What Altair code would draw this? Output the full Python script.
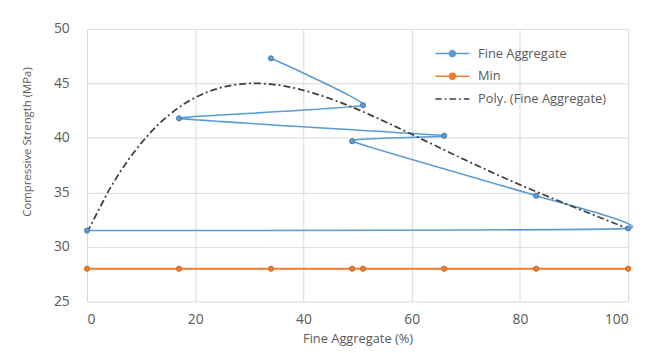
import altair as alt
import pandas as pd

# Fine Aggregate series (in sheet order, line connects points in this order)
fa_x = [34, 51, 17, 66, 49, 83, 100, 0]
fa_y = [47.3, 43.0, 41.8, 40.2, 39.7, 34.7, 31.7, 31.5]

# Min series
min_x = [0, 17, 34, 49, 51, 66, 83, 100]
min_y = [28, 28, 28, 28, 28, 28, 28, 28]

series_names = ["Fine Aggregate", "Min", "Poly. (Fine Aggregate)"]
x_ticks = [0, 20, 40, 60, 80, 100]
y_ticks = [25, 30, 35, 40, 45, 50]

BLUE = "#5B9BD5"
ORANGE = "#ED7D31"
TREND = "#404040"
TEXT = "#595959"
FONT = "Open Sans"

fa = pd.DataFrame({"x": fa_x, "y": fa_y, "idx": list(range(len(fa_x)))})
mn = pd.DataFrame({"x": min_x, "y": min_y})
leg = pd.DataFrame({"series": series_names})

xs = alt.Scale(domain=[0, 100], nice=False, zero=False)
ys = alt.Scale(domain=[25, 50], nice=False, zero=False)

xax = alt.Axis(values=x_ticks, title="Fine Aggregate (%)", grid=True, domain=False,
               ticks=False, labelPadding=11, titlePadding=7, titleFontSize=13)
yax = alt.Axis(values=y_ticks, title="Compressive Strength (MPa)", grid=True, domain=False,
               ticks=False, labelPadding=18, titleX=-55, titleY=114, titleFontSize=11.5)

X = alt.X("x:Q", scale=xs, axis=xax)
Y = alt.Y("y:Q", scale=ys, axis=yax)

fa_line = alt.Chart(fa).mark_line(interpolate="cardinal", tension=0.65, color=BLUE, strokeWidth=1.6).encode(
    x=X, y=Y, order=alt.Order("idx:Q"))
fa_pts = alt.Chart(fa).mark_circle(size=28, color=BLUE, stroke="#41719C", strokeWidth=0.8, opacity=1).encode(
    x="x:Q", y="y:Q")

mn_line = alt.Chart(mn).mark_line(color=ORANGE, strokeWidth=2.2).encode(x="x:Q", y="y:Q")
mn_pts = alt.Chart(mn).mark_circle(size=28, color=ORANGE, stroke="#C55A11", strokeWidth=0.8, opacity=1).encode(
    x="x:Q", y="y:Q")

trend = alt.Chart(fa).transform_regression(
    "x", "y", method="poly", order=4, extent=[0, 100]
).mark_line(color=TREND, strokeDash=[7, 3, 2, 3], strokeWidth=1.8).encode(x="x:Q", y="y:Q")

line_dot = "M-1.15,0L1.15,0M-0.2,0A0.2,0.2,0,1,0,0.2,0A0.2,0.2,0,1,0,-0.2,0Z"
dash_dot = "M-1.15,0H-0.72M-0.52,0H-0.4M-0.2,0H0.25M0.45,0H0.57M0.77,0H1.15"


def make_legend():
    return alt.Legend(title=None, orient="none", legendX=354, legendY=9,
                      symbolSize=900, rowPadding=-6, labelOffset=10,
                      labelFontSize=13, labelColor=TEXT, labelFont=FONT,
                      symbolStrokeWidth=1.5)


legend_layer = alt.Chart(leg).transform_filter("false").mark_point(
    filled=True, strokeWidth=1.5, opacity=1
).encode(
    x=alt.value(0), y=alt.value(0),
    fill=alt.Fill("series:N", scale=alt.Scale(domain=series_names, range=[BLUE, ORANGE, TREND]),
                  legend=make_legend()),
    stroke=alt.Stroke("series:N", scale=alt.Scale(domain=series_names, range=[BLUE, ORANGE, TREND]),
                      legend=make_legend()),
    shape=alt.Shape("series:N", scale=alt.Scale(domain=series_names, range=[line_dot, line_dot, dash_dot]),
                    legend=make_legend()),
)

chart = alt.layer(fa_line, mn_line, trend, fa_pts, mn_pts, legend_layer).properties(
    width=548, height=276,
    autosize=alt.AutoSizeParams(type="none"),
    padding={"left": 80, "top": 19, "right": 12, "bottom": 46},
).configure_view(stroke=None).configure_axis(
    gridColor="#D9D9D9", gridWidth=1, labelColor=TEXT, titleColor=TEXT,
    labelFont=FONT, titleFont=FONT, labelFontSize=14,
    titleFontWeight="normal"
)

chart.save("out.html", embed_options={"renderer": "svg", "actions": False})
